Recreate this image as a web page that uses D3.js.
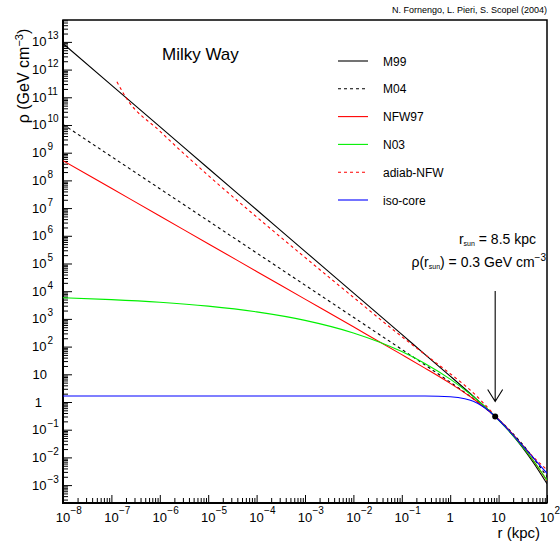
<!DOCTYPE html>
<html>
<head>
<meta charset="utf-8">
<script src="https://cdn.jsdelivr.net/npm/d3@7"></script>
<style>
  body { margin: 0; background: #fff; }
  text { font-family: 'Liberation Sans', Arial, sans-serif; fill: #000; }
</style>
</head>
<body>
<div id="chart"></div>
<script>
const width = 560, height = 541;

// radius in kpc, density in GeV cm^-3
const radius = [1e-8, 1e-7, 1e-6, 1e-5, 1e-4, 1e-3, 1e-2, 0.1, 0.3, 1, 2, 3, 5, 8.5, 15, 30, 50, 100];
const m99   = [8.7e12, 2.75e11, 8.7e9, 2.75e8, 8.7e6, 2.75e5, 8710, 275, 52.5, 8.61, 3.01, 1.61, 0.723, 0.3, 0.107, 0.0251, 0.00724, 0.00112];
const m04   = [1.05e10, 7.24e8, 5.01e7, 3.47e6, 2.40e5, 1.66e4, 1148, 78.9, 21.9, 5.20, 2.21, 1.31, 0.655, 0.3, 0.119, 0.0321, 0.0106, 0.0020];
const nfw97 = [5.18e8, 5.18e7, 5.18e6, 5.18e5, 5.18e4, 5180, 518, 51.3, 16.7, 4.70, 2.14, 1.31, 0.662, 0.3, 0.113, 0.0276, 0.00845, 0.00144];
const n03   = [5770, 4980, 4000, 2890, 1790, 883, 310, 65.9, 24.7, 6.68, 2.75, 1.56, 0.721, 0.3, 0.107, 0.0263, 0.00839, 0.00150];
const isoCore = [1.65, 1.65, 1.65, 1.65, 1.65, 1.65, 1.65, 1.65, 1.64, 1.55, 1.32, 1.06, 0.644, 0.299, 0.110, 0.0288, 0.0105, 0.00264];

const radiusAdiab = [1.3e-7, 2e-7, 1e-6, 1e-5, 1e-4, 1e-3, 1e-2, 0.1, 0.3, 1, 2, 3, 5, 8.5, 15, 30, 50, 100];
const adiabNfw = [3.63e11, 9.77e10, 6.03e9, 1.51e8, 4.79e6, 1.66e5, 6030, 229, 52.5, 10.5, 3.98, 2.14, 0.871, 0.316, 0.112, 0.0302, 0.0112, 0.00355];

const legendNames = ['M99', 'M04', 'NFW97', 'N03', 'adiab-NFW', 'iso-core'];
const xDecades = [-8, -7, -6, -5, -4, -3, -2, -1, 0, 1, 2];
const yDecades = [-3, -2, -1, 0, 1, 2, 3, 4, 5, 6, 7, 8, 9, 10, 11, 12, 13];
const sunRadius = 8.5, sunDensity = 0.3;

const series = [
  {name: 'M99', r: radius, rho: m99, color: '#000', dash: null},
  {name: 'M04', r: radius, rho: m04, color: '#000', dash: '3,3'},
  {name: 'NFW97', r: radius, rho: nfw97, color: '#ff0000', dash: null},
  {name: 'N03', r: radius, rho: n03, color: '#00f000', dash: null},
  {name: 'adiab-NFW', r: radiusAdiab, rho: adiabNfw, color: '#ff0000', dash: '3,3'},
  {name: 'iso-core', r: radius, rho: isoCore, color: '#0000ff', dash: null}
];

const svg = d3.select('#chart').append('svg')
    .attr('width', width)
    .attr('height', height);

const plot = {left: 63, right: 547, top: 20, bottom: 503};

const x = d3.scaleLog()
    .domain([1e-8, 1e2])
    .range([plot.left, plot.right]);
const y = d3.scaleLog()
    .domain([Math.pow(10, -3.646), Math.pow(10, 13.79)])
    .range([plot.bottom, plot.top]);

svg.append('clipPath').attr('id', 'clip')
  .append('rect')
    .attr('x', plot.left).attr('y', plot.top)
    .attr('width', plot.right - plot.left).attr('height', plot.bottom - plot.top);

// minor ticks 2..9 in each decade
const minors = (lo, hi) => {
  let out = [];
  for (let d = lo; d <= hi; d++) {
    for (let m = 2; m <= 9; m++) out.push(m * Math.pow(10, d));
  }
  return out;
};
const xMinor = minors(-8, 1).filter(v => v > 1e-8 && v < 1e2);
const yMinor = minors(-4, 13).filter(v => v > y.domain()[0] && v < y.domain()[1]);

const xAxisG = svg.append('g').attr('transform', `translate(0,${plot.bottom})`);
xAxisG.append('g').call(d3.axisBottom(x).tickValues(xMinor).tickSize(-5).tickFormat(''));
xAxisG.append('g').call(d3.axisBottom(x).tickValues(xDecades.map(k => Math.pow(10, k))).tickSize(-8).tickFormat(''));
xAxisG.selectAll('.domain').remove();

const yAxisG = svg.append('g').attr('transform', `translate(${plot.left},0)`);
yAxisG.append('g').call(d3.axisLeft(y).tickValues(yMinor).tickSize(-5).tickFormat(''));
yAxisG.append('g').call(d3.axisLeft(y).tickValues(yDecades.map(k => Math.pow(10, k))).tickSize(-9).tickFormat(''));
yAxisG.selectAll('.domain').remove();
svg.selectAll('.tick line').attr('stroke', '#000').attr('stroke-width', 1);

// frame
svg.append('rect')
    .attr('x', plot.left).attr('y', plot.top)
    .attr('width', plot.right - plot.left).attr('height', plot.bottom - plot.top)
    .attr('fill', 'none').attr('stroke', '#000').attr('stroke-width', 1.5);
svg.append('path')
    .attr('d', `M${plot.left},${plot.top}V${plot.bottom}H${plot.right}`)
    .attr('fill', 'none').attr('stroke', '#000').attr('stroke-width', 2);

// tick labels
const supText = k => k < 0 ? '\u2212' + (-k) : String(k);

xDecades.forEach(k => {
  const px = x(Math.pow(10, k));
  if (k === 0 || k === 1) {
    svg.append('text').attr('x', px).attr('y', 522).attr('text-anchor', 'middle')
        .attr('font-size', 13).text(k === 0 ? '1' : '10');
  } else {
    svg.append('text').attr('x', px).attr('y', 522).attr('text-anchor', 'middle')
        .attr('font-size', 13).text('10');
    svg.append('text').attr('x', px + 7.5).attr('y', 514).attr('text-anchor', 'start')
        .attr('font-size', 10).text(supText(k));
  }
});

yDecades.forEach(k => {
  const py = y(Math.pow(10, k)) + 4.5;
  if (k === 0) {
    svg.append('text').attr('x', 42).attr('y', py).attr('text-anchor', 'end')
        .attr('font-size', 13).text('1');
  } else if (k === 1) {
    svg.append('text').attr('x', 47).attr('y', py).attr('text-anchor', 'end')
        .attr('font-size', 13).text('10');
  } else {
    svg.append('text').attr('x', 46.5).attr('y', py).attr('text-anchor', 'end')
        .attr('font-size', 13).text('10');
    svg.append('text').attr('x', 47.5).attr('y', py - 7).attr('text-anchor', 'start')
        .attr('font-size', 10).text(supText(k));
  }
});

// axis titles
const yTitle = svg.append('text')
    .attr('transform', 'translate(29,76) rotate(-90)')
    .attr('text-anchor', 'middle')
    .attr('font-size', 16);
yTitle.append('tspan').text('\u03c1 (GeV cm');
yTitle.append('tspan').attr('dy', -6).attr('font-size', 11).text('\u22123');
yTitle.append('tspan').attr('dy', 6).text(')');

svg.append('text')
    .attr('x', 540).attr('y', 538)
    .attr('text-anchor', 'end')
    .attr('font-size', 15)
    .text('r (kpc)');

svg.append('text')
    .attr('x', 547).attr('y', 13)
    .attr('text-anchor', 'end')
    .attr('font-size', 9)
    .text('N. Fornengo, L. Pieri, S. Scopel (2004)');

svg.append('text')
    .attr('x', 162).attr('y', 60)
    .attr('font-size', 17)
    .text('Milky Way');

// curves
const line = d3.line()
    .x(d => x(d[0]))
    .y(d => y(d[1]))
    .curve(d3.curveMonotoneX);

const curves = svg.append('g').attr('clip-path', 'url(#clip)');
series.forEach(s => {
  curves.append('path')
      .datum(s.r.map((r, i) => [r, s.rho[i]]))
      .attr('d', line)
      .attr('fill', 'none')
      .attr('stroke', s.color)
      .attr('stroke-width', 1.1)
      .attr('stroke-dasharray', s.dash);
});

// legend
const legend = svg.append('g');
series.forEach((s, i) => {
  const ly = 61 + i * 27.8;
  legend.append('line')
      .attr('x1', 338).attr('x2', 368).attr('y1', ly).attr('y2', ly)
      .attr('stroke', s.color).attr('stroke-width', 1.1)
      .attr('stroke-dasharray', s.dash);
  legend.append('text')
      .attr('x', 383).attr('y', ly + 4.5)
      .attr('font-size', 12)
      .text(legendNames[i]);
});

// sun annotation
const t1 = svg.append('text').attr('x', 536).attr('y', 244).attr('text-anchor', 'end').attr('font-size', 14);
t1.append('tspan').text('r');
t1.append('tspan').attr('dy', 2).attr('font-size', 7).text('sun');
t1.append('tspan').attr('dy', -2).text(' = 8.5 kpc');

const t2 = svg.append('text').attr('x', 546).attr('y', 267).attr('text-anchor', 'end').attr('font-size', 14);
t2.append('tspan').text('\u03c1(r');
t2.append('tspan').attr('dy', 2).attr('font-size', 7).text('sun');
t2.append('tspan').attr('dy', -2).text(') = 0.3 GeV cm');
t2.append('tspan').attr('dy', -6).attr('font-size', 10).text('\u22123');

const sx = x(sunRadius), sy = y(sunDensity);
svg.append('path')
    .attr('d', `M${sx},291V${sy - 15}M${sx - 7.5},${sy - 27}L${sx},${sy - 15}L${sx + 7.5},${sy - 27}`)
    .attr('fill', 'none').attr('stroke', '#000').attr('stroke-width', 1.1);
svg.append('circle')
    .attr('cx', sx).attr('cy', sy).attr('r', 3)
    .attr('fill', '#000');
</script>
</body>
</html>
